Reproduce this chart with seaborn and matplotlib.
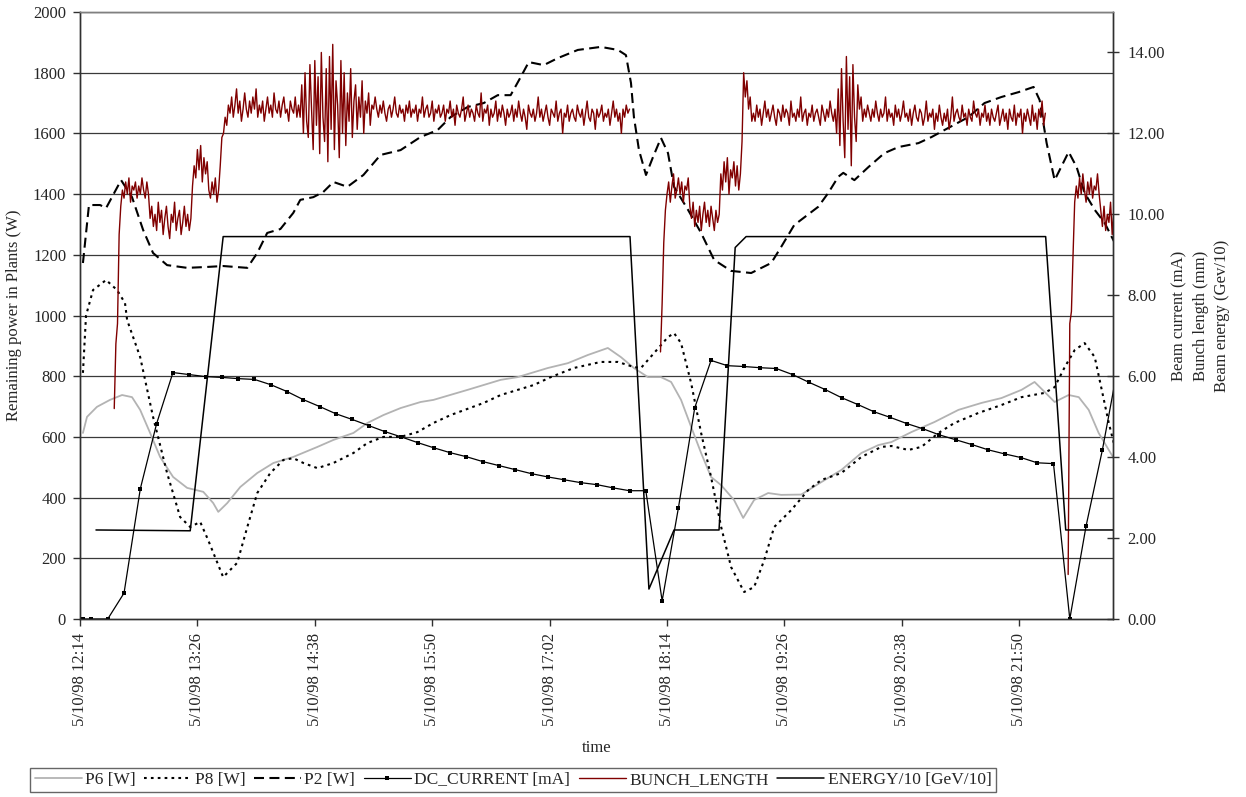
import numpy as np
import pandas as pd
import matplotlib
matplotlib.use("Agg")
import matplotlib.pyplot as plt
from matplotlib.ticker import FormatStrFormatter
import seaborn as sns

# ---------------- data (minutes after 5/10/98 12:14) ----------------
tick_minutes = [0, 72, 144, 216, 288, 360, 432, 504, 576]
tick_labels = ["5/10/98 12:14", "5/10/98 13:26", "5/10/98 14:38", "5/10/98 15:50",
               "5/10/98 17:02", "5/10/98 18:14", "5/10/98 19:26", "5/10/98 20:38",
               "5/10/98 21:50"]

p2_t = [1.8, 5.5, 12.3, 16.0, 25.2, 31.9, 38.7, 44.8, 53.4, 65.7, 78.0, 87.8, 102.6, 108.7,
        114.8, 122.9, 130.8, 135.1, 143.1, 149.2, 155.4, 164.0, 173.8, 184.3, 196.6, 208.8,
        219.3, 227.3, 237.7, 247.6, 256.2, 264.1, 270.3, 275.2, 284.4, 293.0, 305.3, 319.4,
        329.9, 334.8, 337.9, 339.7, 342.8, 347.1, 351.4, 356.3, 360.6, 364.3, 372.9, 380.9,
        388.9, 399.3, 411.6, 423.9, 430.0, 438.0, 452.7, 458.9, 465.0, 468.1, 474.9, 483.5,
        493.3, 501.9, 514.2, 522.2, 530.1, 544.9, 554.7, 565.1, 575.6, 584.8, 588.5, 592.8,
        597.7, 606.3, 611.2, 616.1, 622.3, 628.4, 634.6]
p2_w = [1173, 1364, 1364, 1354, 1446, 1390, 1282, 1206, 1166, 1157, 1160, 1163, 1157, 1206,
        1272, 1285, 1338, 1381, 1390, 1407, 1440, 1424, 1463, 1529, 1545, 1588,
        1611, 1654, 1687, 1700, 1726, 1726, 1786, 1835, 1825, 1848, 1875, 1885,
        1875, 1858, 1766, 1654, 1545, 1463, 1522, 1585, 1535, 1424, 1348, 1272,
        1183, 1147, 1140, 1173, 1226, 1298, 1358, 1404, 1457, 1470, 1446, 1489,
        1535, 1555, 1568, 1588, 1611, 1654, 1700, 1720, 1736, 1753, 1710, 1568,
        1446, 1539, 1489, 1404, 1348, 1305, 1239]

p8_t = [1.8, 3.7, 8.0, 16.0, 22.7, 27.6, 28.9, 36.9, 44.8, 53.4, 61.4, 67.6, 73.7, 78.6,
        87.8, 96.4, 102.6, 108.7, 116.7, 124.7, 130.8, 137.0, 145.6, 155.4, 167.7, 176.3,
        186.1, 196.6, 207.0, 216.8, 227.3, 247.6, 258.0, 278.3, 288.7, 302.8, 319.4, 329.9,
        339.7, 344.0, 352.0, 360.6, 364.3, 368.6, 374.8, 380.9, 387.0, 393.2, 399.3, 407.3,
        413.4, 419.6, 425.7, 436.2, 446.6, 454.6, 466.9, 479.2, 491.4, 497.6, 508.0, 516.0,
        526.5, 536.3, 551.0, 565.1, 577.4, 591.6, 597.7, 603.9, 610.0, 616.1, 622.3, 626.6,
        630.9, 634.6]
p8_w = [811, 1000, 1084, 1117, 1084, 1041, 985, 863, 666, 481, 336, 303, 320, 260,
        138, 185, 303, 415, 481, 524, 530, 514, 497, 514, 547, 580,
        600, 600, 616, 646, 672, 712, 738, 771, 797, 827, 847, 847,
        830, 827, 876, 929, 942, 909, 777, 613, 468, 303, 171, 89,
        105, 194, 303, 359, 425, 458, 481, 534, 567, 570, 557, 567,
        613, 646, 679, 705, 731, 745, 764, 830, 886, 909, 863, 755,
        646, 567]

p6_t = [1.8, 4.3, 10.4, 18.4, 25.8, 31.9, 36.9, 43.0, 49.1, 57.1, 65.7, 75.6, 81.7, 84.8,
        90.3, 98.3, 108.7, 118.6, 130.8, 145.6, 155.4, 167.7, 176.3, 186.1, 196.6, 208.9,
        216.8, 237.7, 258.0, 268.4, 286.9, 299.2, 311.5, 323.7, 331.7, 339.7, 348.3, 356.3,
        362.5, 368.6, 374.8, 380.9, 387.0, 393.2, 401.1, 406.7, 413.4, 422.0, 430.0, 442.3,
        454.6, 466.9, 479.2, 489.6, 497.6, 509.9, 524.0, 538.7, 552.9, 565.1, 577.4, 585.4,
        591.6, 597.7, 606.3, 612.5, 618.6, 624.7, 630.9, 634.6]
p6_w = [613, 666, 699, 722, 738, 731, 689, 613, 534, 468, 432, 419, 382, 353,
        382, 435, 481, 514, 534, 567, 590, 613, 646, 672, 695, 715,
        722, 755, 788, 797, 827, 843, 870, 893, 863, 827, 797, 797,
        781, 722, 633, 547, 468, 441, 392, 333, 392, 415, 409, 410,
        451, 491, 547, 573, 583, 616, 649, 689, 712, 728, 755, 781,
        748, 715, 738, 731, 689, 613, 557, 524]

# DC current, sampled every 10 min (first reading 12:16, then from 12:21)
dc_first_t = 1.8
dc_start = 7.0
dc_step = 10.0
dc_ma = [0, 0, 0.64, 3.22, 4.83, 6.09, 6.04, 5.99, 5.97, 5.94, 5.92, 5.79, 5.62, 5.42, 5.25,
         5.07, 4.93, 4.78, 4.63, 4.50, 4.36, 4.23, 4.11, 4.01, 3.89, 3.79, 3.69, 3.59, 3.51,
         3.44, 3.37, 3.32, 3.24, 3.17, 3.17, 0.45, 2.75, 5.22, 6.39, 6.26, 6.24, 6.21, 6.19,
         6.04, 5.85, 5.67, 5.47, 5.30, 5.12, 4.98, 4.83, 4.70, 4.55, 4.43, 4.31, 4.18, 4.08,
         3.99, 3.86, 3.84, 0.0, 2.30, 4.18, 6.35]

# Bunch length (mm), one reading per minute, three fills
bl_step = 1.0
bl_a_start = 21.0
bl_a = [5.2, 6.8, 7.3, 9.5, 10.2,
        10.6, 10.4, 10.8, 10.5, 10.9, 10.3, 10.7, 10.6, 10.8, 10.4, 10.7, 10.5, 10.9, 10.6,
        10.4, 10.8, 10.5,
        9.9, 10.2, 9.7, 10.0, 9.6, 10.3, 9.8, 10.1, 9.5, 9.9, 10.2, 9.7, 9.4, 10.0, 9.8, 10.3,
        9.6, 9.9, 10.1, 9.5, 9.8, 10.2, 9.7, 10.0, 9.6, 9.9,
        10.7, 11.2, 10.9, 11.6, 11.1, 11.7, 10.8, 11.4, 11.0, 11.3,
        10.6, 10.4, 10.8, 10.5, 10.9, 10.3, 10.6,
        11.2, 11.9, 12.0, 12.4, 12.2, 12.7,
        12.5, 12.9, 12.4, 12.7, 13.1, 12.5, 12.8, 12.3, 12.6, 13.0, 12.6, 12.4, 12.8, 12.5,
        12.9, 12.6, 13.1, 12.4, 12.7, 12.5, 12.8, 12.3, 12.6, 12.9, 12.5, 12.7, 12.4, 13.0,
        12.6, 12.5, 12.8, 12.4, 12.7, 12.9, 12.5, 12.6, 12.3, 12.8, 12.6, 12.5, 12.9, 12.4,
        12.7,
        12.4, 13.2, 12.0, 13.5, 12.3, 11.9, 13.7, 12.6, 11.6, 13.8, 12.2, 13.4, 11.5, 14.0,
        12.4, 11.8, 13.6, 11.3, 13.9, 12.1, 14.2, 11.6, 13.3, 12.7, 11.4, 13.8, 12.0, 13.5,
        11.7, 13.0, 12.3, 13.6, 11.9, 12.8, 13.2, 12.1, 12.9, 12.4, 13.3, 12.0, 12.8, 12.5,
        13.0, 12.2, 12.7, 12.6, 12.9,
        12.6, 12.4, 12.7, 12.5, 12.8, 12.5, 12.3, 12.6, 12.7, 12.4, 12.6, 12.9, 12.5, 12.4,
        12.7, 12.5, 12.6, 12.3, 12.7, 12.5,
        12.8, 12.4, 12.6, 12.5, 12.7, 12.3, 12.6, 12.5, 12.9, 12.4, 12.6, 12.7, 12.4, 12.5,
        12.8, 12.3, 12.6, 12.5, 12.7, 12.4,
        12.5, 12.7, 12.3, 12.6, 12.5, 12.8, 12.4, 12.6, 12.2, 12.7, 12.5, 12.4, 12.6, 12.9,
        12.3, 12.5, 12.7, 12.4, 12.6, 12.5,
        12.3, 12.7, 12.5, 12.4, 13.0, 12.3, 12.6, 12.5, 12.7, 12.2, 12.6, 12.4, 12.5, 12.8,
        12.3, 12.6, 12.4, 12.7, 12.5, 12.2,
        12.6, 12.4, 12.5, 12.7, 12.3, 12.6, 12.4, 12.8, 12.5, 12.3, 12.6, 12.4, 12.1, 12.7,
        12.5, 12.4, 12.6, 12.3, 12.5, 12.9,
        12.4, 12.6, 12.3, 12.5, 12.7, 12.4, 12.2, 12.6, 12.5, 12.4, 12.8, 12.3, 12.5, 12.6,
        12.0, 12.5, 12.4, 12.7, 12.3, 12.5,
        12.6, 12.4, 12.3, 12.7, 12.5, 12.4, 12.6, 12.2, 12.5, 12.8, 12.4, 12.3, 12.6, 12.5,
        12.1, 12.6, 12.4, 12.5, 12.7, 12.3,
        12.5, 12.4, 12.6, 12.2, 12.5, 12.8, 12.4, 12.6, 12.3, 12.5, 12.0, 12.6, 12.4, 12.7,
        12.5, 12.6]
bl_b_start = 356.0
bl_b = [6.6, 7.8, 9.3, 10.1,
        10.5, 10.8, 10.3, 10.7, 11.0, 10.4, 10.6, 10.9, 10.5, 10.8, 10.3, 10.7, 10.6, 10.9,
        10.2, 9.9, 10.3, 9.7, 10.1, 9.8, 10.2, 9.6, 10.0, 10.3, 9.8, 10.1, 9.7, 10.2, 9.9,
        9.6, 10.1, 9.8, 10.0,
        11.0, 10.6, 11.3, 10.8, 11.4, 10.5, 11.1, 10.9, 11.3, 10.7, 11.2, 10.6, 11.0,
        11.8, 13.5, 12.9, 13.3, 12.6, 12.9, 12.3,
        12.5, 12.3, 12.7, 12.4, 12.6, 12.2, 12.5, 12.8, 12.4, 12.6, 12.3, 12.5, 12.7, 12.4,
        12.2, 12.6, 12.5, 12.3, 12.7, 12.4,
        12.6, 12.5, 12.2, 12.8, 12.4, 12.5, 12.3, 12.6, 12.4, 12.9, 12.3, 12.5, 12.6, 12.2,
        12.5, 12.4, 12.7, 12.3, 12.5, 12.6,
        12.4, 12.2, 12.7, 12.5, 12.3, 12.6, 12.4, 12.8, 12.5, 12.3, 12.6,
        12.0, 13.1, 11.7, 13.6, 12.3, 11.4, 13.9, 12.1, 13.4, 11.2, 13.7, 12.4, 11.8, 13.2,
        12.6, 12.9, 12.3,
        12.6, 12.4, 12.7, 12.5, 12.3, 12.6, 12.4, 12.8, 12.5, 12.3, 12.6, 12.4, 12.5, 12.9,
        12.3, 12.6, 12.4, 12.5, 12.2, 12.7,
        12.4, 12.6, 12.3, 12.5, 12.8, 12.4, 12.5, 12.3, 12.6, 12.2, 12.5, 12.7, 12.4, 12.3,
        12.6, 12.5, 12.2, 12.4, 12.8, 12.3,
        12.5, 12.4, 12.6, 12.1, 12.5, 12.3, 12.7, 12.4, 12.2, 12.5, 12.3, 12.6, 12.1, 12.4,
        12.9, 12.3, 12.5, 12.6, 12.4, 12.3,
        12.7, 12.4, 12.5, 12.2, 12.6, 12.4, 12.3, 12.8, 12.5, 12.4, 12.6, 12.2, 12.5, 12.4,
        12.7, 12.3, 12.5, 12.2, 12.6, 12.4,
        12.3, 12.5, 12.7, 12.2, 12.4, 12.6, 12.3, 12.5, 12.1, 12.6, 12.4, 12.3, 12.7, 12.2,
        12.5, 12.4, 12.6, 12.0, 12.5, 12.3,
        12.6, 12.4, 12.2, 12.7, 12.3, 12.5, 12.1, 12.6, 12.4, 12.8, 12.2, 12.5]
bl_c_start = 606.0
bl_c = [1.1, 7.3, 7.6, 9.0, 10.3,
        10.7, 10.4, 10.9, 10.5, 11.0, 10.6, 10.3, 10.8, 10.5, 10.9, 10.4, 10.7, 10.6, 11.0,
        10.5,
        10.1, 9.7, 10.2, 9.6, 10.0, 9.8, 10.3, 9.5, 10.1, 9.7, 10.2, 9.9]

energy_t = [9.8, 67.6, 87.8, 337.3, 348.9, 364.3, 391.9, 401.8, 408.5, 592.2, 604.5, 637.6]
energy_v = [2.20, 2.18, 9.45, 9.45, 0.74, 2.20, 2.20, 9.18, 9.45, 9.45, 2.20, 2.20]

# ---------------- styling ----------------
sns.set_theme(style="white")
plt.rcParams["font.family"] = ["Liberation Serif", "DejaVu Serif"]
plt.rcParams["font.size"] = 12

fig = plt.figure(figsize=(12.46, 7.97), dpi=100)
ax = fig.add_axes([80 / 1246, 1 - 619 / 797, 1033 / 1246, 607 / 797])
ax2 = ax.twinx()


def draw(axis, t, v, name, **kw):
    sns.lineplot(x=np.asarray(t, float), y=np.asarray(v, float), ax=axis,
                 sort=False, estimator=None, legend=False, **kw)
    ln = axis.lines[-1]
    ln.set_label(name)
    return ln


# left-axis series
draw(ax, p6_t, p6_w, "P6 [W]", color="#b3b3b3", linewidth=1.3)
l8 = draw(ax, p8_t, p8_w, "P8 [W]", color="black", linewidth=1.5)
l8.set_dashes([1.3, 2.0])
l2 = draw(ax, p2_t, p2_w, "P2 [W]", color="black", linewidth=1.5)
l2.set_dashes([4.8, 2.6])

# right-axis series
dc_t = [dc_first_t] + list(dc_start + dc_step * np.arange(len(dc_ma)))
dc_v = [0.0] + dc_ma
draw(ax2, dc_t, dc_v, "DC_CURRENT [mA]", color="black", linewidth=0.9,
     marker="s", markersize=3.4, markeredgewidth=0)

red = "#800000"
for i, (st, vals) in enumerate([(bl_a_start, bl_a), (bl_b_start, bl_b), (bl_c_start, bl_c)]):
    tt = st + bl_step * np.arange(len(vals))
    draw(ax2, tt, vals, "BUNCH_LENGTH" if i == 0 else "_nolegend_", color=red, linewidth=1.0)

draw(ax2, energy_t, energy_v, "ENERGY/10 [GeV/10]", color="black", linewidth=1.1)

# axes ranges / ticks
ax.set_xlim(0, 633.5)
ax.set_ylim(0, 2000)
ax2.set_ylim(0, 15)
ax.set_yticks(np.arange(0, 2001, 200))
ax2.set_yticks(np.arange(0, 15, 2))
ax2.yaxis.set_major_formatter(FormatStrFormatter("%.2f"))
ax.set_xticks(tick_minutes)
ax.set_xticklabels(tick_labels, rotation=90)

ax.grid(False)
ax2.grid(False)
for yv in np.arange(200, 2001, 200):
    ax.axhline(yv, color="#3a3a3a", linewidth=0.9, zorder=0)

for a in (ax, ax2):
    for s in a.spines.values():
        s.set_color("#303030")
        s.set_linewidth(1.0)
    a.spines["top"].set_color("#808080")

ax.tick_params(axis="y", which="major", direction="out", length=5, width=1, pad=5,
               labelsize=12, color="#303030", left=True)
ax.tick_params(axis="x", which="major", direction="out", length=5, width=1, pad=5,
               labelsize=12, color="#303030", bottom=True)
ax2.tick_params(axis="y", which="major", direction="inout", length=9, width=1, pad=6,
                labelsize=12, color="#303030", right=True)

ax.set_ylabel("Remaining power in Plants (W)", fontsize=12)
ax.yaxis.set_label_coords(-0.056, 0.5)
ax.set_xlabel("time", fontsize=12)
ax.xaxis.set_label_coords(0.5, -0.199)
ax2.set_ylabel("")
ax2.text(1.085, 0.5, "Beam current (mA)\nBunch length (mm)\nBeam energy (Gev/10)",
         transform=ax2.transAxes, rotation=90, ha="center", va="center",
         multialignment="center", linespacing=1.42, fontsize=12)

for a in (ax, ax2):
    lg = a.get_legend()
    if lg is not None:
        lg.remove()

h1, lab1 = ax.get_legend_handles_labels()
h2, lab2 = ax2.get_legend_handles_labels()
leg = fig.legend(h1 + h2, lab1 + lab2, loc="center", bbox_to_anchor=(513 / 1246, 1 - 780 / 797),
                 ncol=6, fontsize=12.5, frameon=True, fancybox=False, edgecolor="#404040",
                 handlelength=2.7, handletextpad=0.2, columnspacing=0.5, borderpad=0.25,
                 numpoints=1)
leg.get_frame().set_linewidth(1.0)

fig.savefig("out.png", dpi=100)
